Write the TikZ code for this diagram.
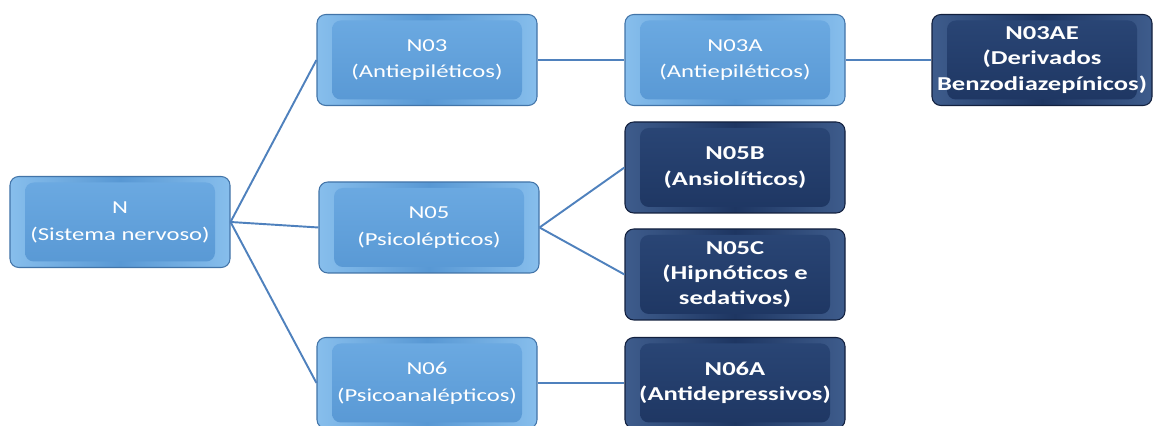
\documentclass[tikz,border=0pt]{standalone}
\usepackage{fontspec}
\setmainfont{Carlito}[FakeStretch=1.35]
\usetikzlibrary{positioning}

\definecolor{ltedge}{RGB}{66,116,168}
\definecolor{ltside}{RGB}{135,190,236}
\definecolor{ltface}{RGB}{88,152,212}
\definecolor{lttop}{RGB}{108,170,226}
\definecolor{dkedge}{RGB}{18,32,62}
\definecolor{dkside}{RGB}{62,92,140}
\definecolor{dkface}{RGB}{30,54,98}
\definecolor{dktop}{RGB}{42,70,118}
\definecolor{linkblue}{RGB}{79,129,189}

\tikzset{
  catbox/.style={rectangle, rounded corners=5pt, minimum width=4.4cm, minimum height=1.82cm,
    inner sep=0pt, align=center, text=white, draw=#1edge, line width=0.6pt,
    left color=#1side, right color=#1side, middle color=#1face,
    path picture={\shade[top color=#1top, bottom color=#1face]
      ([xshift=0.3cm,yshift=0.12cm]path picture bounding box.south west) rectangle
      ([xshift=-0.3cm,yshift=-0.12cm]path picture bounding box.north east);}},
  lightbox/.style={catbox=lt, font=\fontsize{10.4}{15.3}\selectfont},
  darkbox/.style={catbox=dk, font=\fontsize{11.2}{14.4}\selectfont\bfseries},
  link/.style={draw=linkblue, line width=1.1pt}
}

\begin{document}
\begin{tikzpicture}[scale=1]
\useasboundingbox (0,0) rectangle (23.16,8.52);
\node[lightbox] (N) at (2.4,4.08) {N\\(Sistema nervoso)};
\node[lightbox] (N03) at (8.54,7.32) {N03\\(Antiepiléticos)};
\node[lightbox] (N05) at (8.58,3.97) {N05\\(Psicolépticos)};
\node[lightbox] (N06) at (8.54,0.86) {N06\\(Psicoanalépticos)};
\node[lightbox] (N03A) at (14.7,7.32) {N03A\\(Antiepiléticos)};
\node[darkbox] (N03AE) at (20.84,7.32) {N03AE\\(Derivados\\Benzodiazepínicos)};
\node[darkbox] (N05B) at (14.7,5.17) {N05B\\(Ansiolíticos)};
\node[darkbox] (N05C) at (14.7,3.03) {N05C\\(Hipnóticos e\\sedativos)};
\node[darkbox] (N06A) at (14.7,0.86) {N06A\\(Antidepressivos)};

\draw[link] (N.east) -- (N03.west);
\draw[link] (N.east) -- (N05.west);
\draw[link] (N.east) -- (N06.west);
\draw[link] (N03) -- (N03A);
\draw[link] (N03A) -- (N03AE);
\draw[link] (N05.east) -- (N05B.west);
\draw[link] (N05.east) -- (N05C.west);
\draw[link] (N06) -- (N06A);
\end{tikzpicture}
\end{document}
